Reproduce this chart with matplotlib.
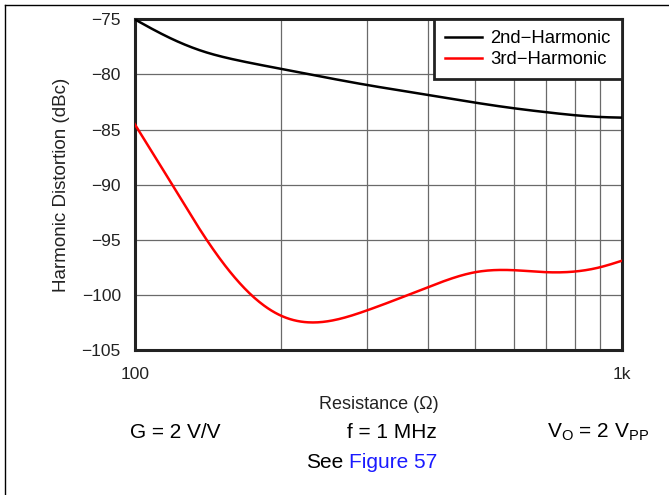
import numpy as np
import matplotlib.pyplot as plt
from matplotlib.lines import Line2D

plt.rcParams["font.family"] = ["Liberation Sans", "DejaVu Sans"]

# Resistance (ohm) and harmonic distortion (dBc)
r_2nd = [100, 114.5, 138, 162, 200, 300, 400, 500, 600, 700, 800, 900, 1000]
hd2 = [-75.0, -76.4, -77.9, -78.7, -79.5, -80.96, -81.86, -82.56,
       -83.07, -83.43, -83.7, -83.86, -83.92]

r_3rd = [100, 119, 140.5, 172.5, 200, 231, 300, 400, 500, 600, 700, 800,
         900, 1000]
hd3 = [-84.5, -89.9, -95.0, -99.9, -101.9, -102.5, -101.4, -99.3, -97.94,
       -97.76, -97.94, -97.88, -97.5, -96.9]

y_ticks = [-105, -100, -95, -90, -85, -80, -75]
x_ticks = [100, 1000]
x_tick_labels = ["100", "1k"]


def spline(x, y, n=400):
    # natural cubic spline through the read points, in log10(x)
    t = np.log10(np.asarray(x, dtype=float))
    y = np.asarray(y, dtype=float)
    k = len(t)
    h = np.diff(t)
    a = np.zeros((k, k))
    b = np.zeros(k)
    a[0, 0] = a[-1, -1] = 1
    for i in range(1, k - 1):
        a[i, i - 1] = h[i - 1]
        a[i, i] = 2 * (h[i - 1] + h[i])
        a[i, i + 1] = h[i]
        b[i] = 6 * ((y[i + 1] - y[i]) / h[i] - (y[i] - y[i - 1]) / h[i - 1])
    m = np.linalg.solve(a, b)
    ts = np.linspace(t[0], t[-1], n)
    idx = np.clip(np.searchsorted(t, ts) - 1, 0, k - 2)
    t0, t1 = t[idx], t[idx + 1]
    hh = t1 - t0
    u = (t1 - ts) / hh
    v = (ts - t0) / hh
    ys = (m[idx] * u**3 * hh**2 / 6 + m[idx + 1] * v**3 * hh**2 / 6
          + (y[idx] - m[idx] * hh**2 / 6) * u + (y[idx + 1] - m[idx + 1] * hh**2 / 6) * v)
    return 10**ts, ys


fig = plt.figure(figsize=(6.69, 4.95), dpi=100)
ax = fig.add_axes([0.2013, 0.2929, 0.7284, 0.6681])

x2, y2 = spline(r_2nd, hd2)
x3, y3 = spline(r_3rd, hd3)
ax.plot(x2, y2, color="black", lw=1.8, label="2nd\u2212Harmonic", zorder=3)
ax.plot(x3, y3, color="red", lw=1.8, label="3rd\u2212Harmonic", zorder=3)

ax.set_xscale("log")
ax.set_xlim(100, 1000)
ax.set_ylim(-105, -75)
ax.set_yticks(y_ticks)
ax.set_yticklabels([f"\u2212{abs(v)}" for v in y_ticks])
ax.set_xticks(x_ticks)
ax.set_xticklabels(x_tick_labels)
ax.xaxis.set_minor_formatter(plt.NullFormatter())
ax.tick_params(which="both", length=0, labelsize=12.5, colors="#222222")
ax.tick_params(axis="y", pad=10)
ax.tick_params(axis="x", pad=12)
ax.grid(True, which="both", color="#6a6a6a", lw=0.9)
for s in ax.spines.values():
    s.set_linewidth(2.2)
    s.set_color("#222222")

ax.set_xlabel("Resistance (\u03a9)", fontsize=13, color="#222222", labelpad=10)
ax.set_ylabel("Harmonic Distortion (dBc)", fontsize=13.5, color="#222222", labelpad=8)

leg = ax.legend(loc="upper right", fontsize=13.3, frameon=True, fancybox=False,
                borderaxespad=0, handlelength=2.0, handletextpad=0.45,
                labelspacing=0.2, borderpad=0.6, framealpha=1)
leg.get_frame().set_edgecolor("#222222")
leg.get_frame().set_linewidth(2)

# page frame
fig.add_artist(Line2D([5 / 669, 5 / 669], [0, 1 - 5 / 495], color="black", lw=1))
fig.add_artist(Line2D([5 / 669, 1], [1 - 5 / 495, 1 - 5 / 495], color="black", lw=1))

fig.text(175 / 669, 1 - 432 / 495, "G = 2 V/V", ha="center", va="center", fontsize=15)
fig.text(437 / 669, 1 - 432 / 495, "f = 1 MHz", ha="right", va="center", fontsize=15)
fig.text(547 / 669, 1 - 432 / 495, r"V$_\mathregular{O}$ = 2 V$_\mathregular{PP}$",
         ha="left", va="center", fontsize=15)
fig.text(306 / 669, 1 - 462 / 495, "See", ha="left", va="center", fontsize=15)
fig.text(349 / 669, 1 - 462 / 495, "Figure 57", ha="left", va="center",
         fontsize=15, color="#1a1aff")

fig.savefig("out.png", dpi=100)
